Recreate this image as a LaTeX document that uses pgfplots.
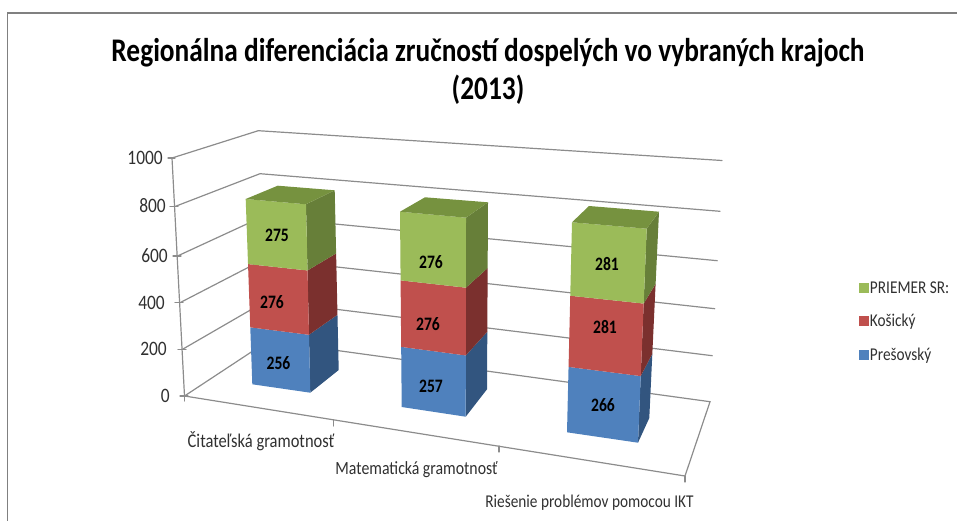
\documentclass[border=0pt]{standalone}
\usepackage{pgfplots}
\pgfplotsset{compat=1.18}
\usepackage{fontspec}
\setmainfont{Carlito}
\newfontfamily\cond[FakeStretch=0.85]{Carlito}
\newfontfamily\condt[FakeStretch=0.83]{Carlito}
\newfontfamily\condv[FakeStretch=0.82]{Carlito}
\definecolor{gridc}{HTML}{8C8C8C}
\definecolor{txt}{HTML}{303030}
\definecolor{gF}{HTML}{9BBB59}\definecolor{gS}{HTML}{677F39}\definecolor{gT}{HTML}{76923F}
\definecolor{rF}{HTML}{C0504D}\definecolor{rS}{HTML}{7B302E}
\definecolor{bF}{HTML}{4F81BD}\definecolor{bS}{HTML}{32557F}
% one face between two levels lo and hi (values on the stacked scale).
% #1 colour, #2 and #3 vertical edges of the face: x and y at value 0, x and y at the total,
% #4 stack total, #5 lo, #6 hi
\newcommand\face[6]{%
\addplot[fill=#1,draw=none,forget plot] table[row sep=\\,
  x expr={\thisrow{xa}+(\thisrow{xb}-\thisrow{xa})*(\thisrow{v}/\thisrow{T})*0.955/(1-0.045*\thisrow{v}/\thisrow{T})},
  y expr={\thisrow{ya}+(\thisrow{yb}-\thisrow{ya})*(\thisrow{v}/\thisrow{T})*0.955/(1-0.045*\thisrow{v}/\thisrow{T})}]
{xa ya xb yb T v\\ #2 #4 #5\\ #3 #4 #5\\ #3 #4 #6\\ #2 #4 #6\\};}
% #1 front-left edge, #2 front-right edge, #3 back-right edge, #4 back-left edge,
% #5 Presov, #6 Kosice, #7 Priemer
\newcommand\stackbar[7]{%
\pgfmathtruncatemacro\la{#5}\pgfmathtruncatemacro\lb{#5+#6}\pgfmathtruncatemacro\lc{#5+#6+#7}%
\edef\doit{\noexpand\face{bS}{#2}{#3}{\lc}{0}{\la}\noexpand\face{bF}{#1}{#2}{\lc}{0}{\la}%
\noexpand\face{rS}{#2}{#3}{\lc}{\la}{\lb}\noexpand\face{rF}{#1}{#2}{\lc}{\la}{\lb}%
\noexpand\face{gS}{#2}{#3}{\lc}{\lb}{\lc}\noexpand\face{gF}{#1}{#2}{\lc}{\lb}{\lc}}\doit
\addplot[fill=gT,draw=none,forget plot] table[row sep=\\,
  x expr={\thisrow{xb}},y expr={\thisrow{yb}}]
{xa ya xb yb\\ #1\\ #2\\ #3\\ #4\\};}
\begin{document}
\begin{tikzpicture}
\begin{axis}[
  scale only axis,width=957pt,height=521pt,
  xmin=0,xmax=957,ymin=0,ymax=521,y dir=reverse,
  axis lines=none,clip=false,
  every axis plot/.append style={line cap=round},
  legend style={draw=none,fill=none,at={(axis cs:859,280.5)},anchor=north west,
    font=\cond\fontsize{18}{20}\selectfont\color{txt},row sep=17.7pt,
    inner sep=0pt,outer sep=0pt,nodes={inner sep=1pt}},
  legend cell align=left,
  legend image code/.code={\fill[#1,draw=none] (0cm,-0.17cm) rectangle (0.35cm,0.19cm);},
]
% keeps the page at the full picture
\addplot[draw=none,forget plot] coordinates {(0,0)(957,521)};
\path[use as bounding box] (axis cs:0,0) rectangle (axis cs:957,521);
% chart frame
\addplot[gray,line width=1.3pt,forget plot] coordinates {(7.5,521)(7.5,13)(957,13)};
% back walls: gridlines at 1000, 800, ... 0
\addplot[gridc,line width=1.2pt,forget plot] coordinates {(172,158)(258.3,130.7)(722,160.5)};
\addplot[gridc,line width=1.2pt,forget plot] coordinates {(175,206.5)(260,173.7)(720,211.3)};
\addplot[gridc,line width=1.2pt,forget plot] coordinates {(177.5,256)(262,217)(717.3,260.7)};
\addplot[gridc,line width=1.2pt,forget plot] coordinates {(180,302.7)(264.5,259)(714.7,308.7)};
\addplot[gridc,line width=1.2pt,forget plot] coordinates {(182.5,349.3)(266.5,300.7)(712.3,355.7)};
% floor
\addplot[gridc,line width=1.2pt,forget plot] coordinates {(184.5,396)(268,341)(710,401.7)(685,476)(184.5,396)};
% value axis and ticks
\addplot[gridc,line width=1.2pt,forget plot] coordinates {(172,158)(184.5,396)};
\addplot[gridc,line width=1.2pt,forget plot] coordinates {(168,158)(175,158)};
\addplot[gridc,line width=1.2pt,forget plot] coordinates {(170,206.7)(178,206.7)};
\addplot[gridc,line width=1.2pt,forget plot] coordinates {(173,256)(181,256)};
\addplot[gridc,line width=1.2pt,forget plot] coordinates {(175,302.7)(183,302.7)};
\addplot[gridc,line width=1.2pt,forget plot] coordinates {(178,349.3)(186,349.3)};
\addplot[gridc,line width=1.2pt,forget plot] coordinates {(180,396)(188,396)};
% category ticks
\addplot[gridc,line width=1.2pt,forget plot] coordinates {(184.3,395)(184.3,401)};
\addplot[gridc,line width=1.2pt,forget plot] coordinates {(333.3,420)(333.3,426)};
\addplot[gridc,line width=1.2pt,forget plot] coordinates {(499,446)(499,452)};
\addplot[gridc,line width=1.2pt,forget plot] coordinates {(685,476)(685,482)};
% the bars
\stackbar{252.3 384.3 245.7 199}{310.3 392.7 306 204.3}{338.7 370 334.7 190.3}{277.7 185.7 277.7 185.7}{256}{276}{275}
\stackbar{401.7 407 400 211.7}{465.7 416.7 466 217.7}{487 389.3 488 202.3}{425 197.3 425 197.3}{257}{276}{276}
\stackbar{567 432.3 572 222.3}{638 442.7 646.7 228.7}{649.3 418 659 211.7}{589 206 589 206}{266}{281}{281}
% legend
\addlegendimage{fill=gF}\addlegendentry{PRIEMER SR:}
\addlegendimage{fill=rF}\addlegendentry{Košický}
\addlegendimage{fill=bF}\addlegendentry{Prešovský}
% value labels
\foreach \x/\y/\t in {277/235/275,272/302/276,278.5/363/256,431/262/276,428/324/276,431/386/257,607/264/281,605/327/281,603/405/266}{
  \edef\tmp{\noexpand\node[font=\noexpand\condv\noexpand\fontsize{19}{21}\noexpand\selectfont\noexpand\bfseries] at (axis cs:\x,\y) {\t};}\tmp}
% axis numbers
\foreach \x/\y/\t in {163/158/1000,166/206/800,168/256/600,165/303/400,167/349/200,170/396/0}{
  \edef\tmp{\noexpand\node[anchor=east,inner sep=0pt,text=txt,font=\noexpand\cond\noexpand\fontsize{20.5}{22}\noexpand\selectfont] at (axis cs:\x,\y) {\t};}\tmp}
\node[inner sep=0pt,text=txt,font=\cond\fontsize{19.4}{22}\selectfont] at (axis cs:261,441) {Čitateľská gramotnosť};
\node[inner sep=0pt,text=txt,font=\cond\fontsize{18.6}{22}\selectfont] at (axis cs:416.5,470) {Matematická gramotnosť};
\node[inner sep=0pt,text=txt,font=\cond\fontsize{18}{22}\selectfont] at (axis cs:589.5,503) {Riešenie problémov pomocou IKT};
\node[align=center,inner sep=0pt,font=\condt\fontsize{33}{38}\selectfont\bfseries] at (axis cs:488,71) {Regionálna diferenciácia zručností dospelých vo vybraných krajoch\\(2013)};
\end{axis}
\end{tikzpicture}
\end{document}
